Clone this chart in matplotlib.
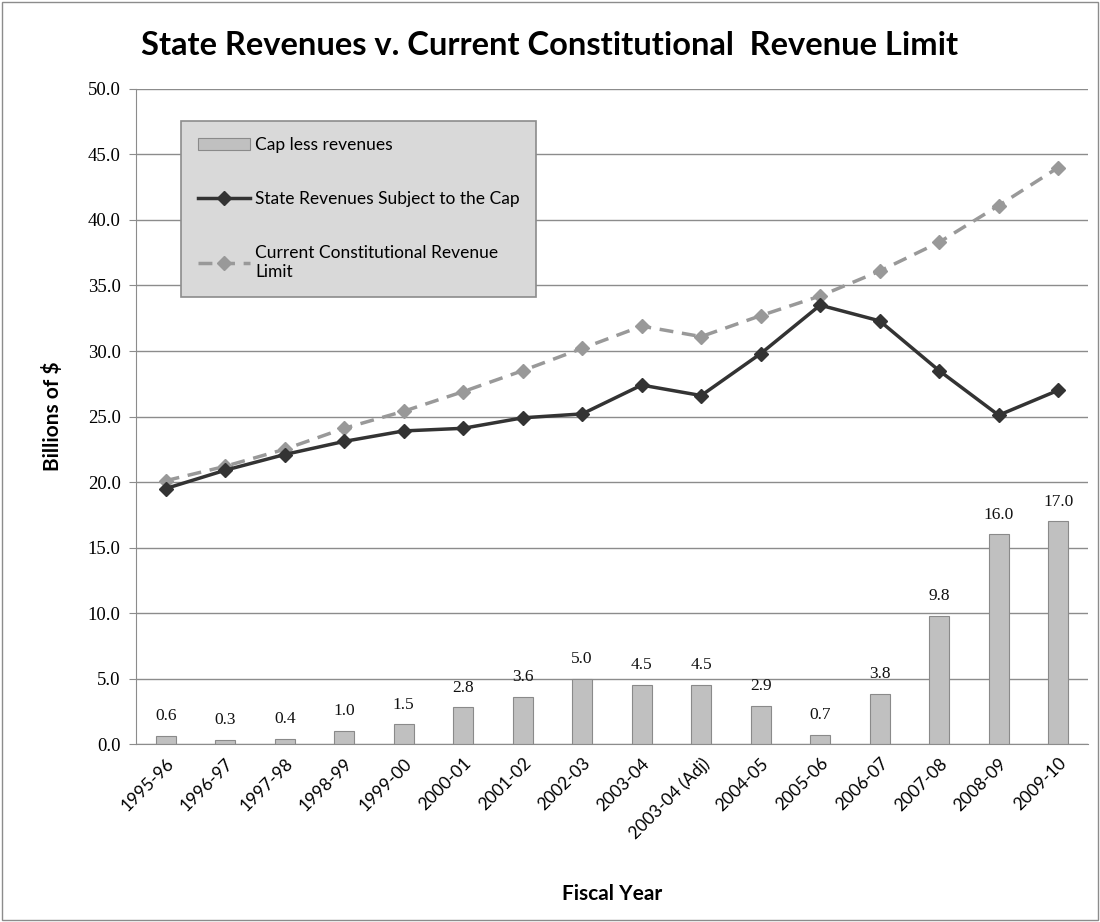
import matplotlib
matplotlib.use("Agg")
from matplotlib import pyplot as plt
from matplotlib.patches import Rectangle
import numpy as np

# data
years = ["1995-96", "1996-97", "1997-98", "1998-99", "1999-00", "2000-01",
         "2001-02", "2002-03", "2003-04", "2003-04 (Adj)", "2004-05", "2005-06",
         "2006-07", "2007-08", "2008-09", "2009-10"]
cap_less = [0.6, 0.3, 0.4, 1.0, 1.5, 2.8, 3.6, 5.0, 4.5, 4.5, 2.9, 0.7, 3.8, 9.8, 16.0, 17.0]
revenues = [19.5, 20.9, 22.1, 23.1, 23.9, 24.1, 24.9, 25.2, 27.4, 26.6, 29.8, 33.5,
            32.3, 28.5, 25.1, 27.0]
limit = [20.1, 21.2, 22.5, 24.1, 25.4, 26.9, 28.5, 30.2, 31.9, 31.1, 32.7, 34.2,
         36.1, 38.3, 41.1, 44.0]
yticks = np.arange(0, 50.1, 5)

sans = "Lato"
serif = "Liberation Serif"

fig = plt.figure(figsize=(11, 9.22), dpi=100)
fig.patches.append(Rectangle((0.002, 0.002), 0.996, 0.996, transform=fig.transFigure,
                             fill=False, edgecolor="#8c8c8c", lw=1))
ax = fig.add_axes([0.1236, 0.193, 0.8654, 0.7105])

x = np.arange(len(years))
bars = ax.bar(x, cap_less, width=0.34, color="#c0c0c0", edgecolor="#8a8a8a",
              lw=0.8, label="Cap less revenues", zorder=2)
for xi, v in zip(x, cap_less):
    ax.text(xi, v + 0.9, f"{v:.1f}", ha="center", va="bottom", fontsize=12.5,
            family=serif, color="#111111")

l1, = ax.plot(x, revenues, color="#333333", lw=2.5, marker="D", ms=7,
              label="State Revenues Subject to the Cap", zorder=4)
l2, = ax.plot(x, limit, color="#999999", lw=2.5, ls=(0, (4, 2.5)), marker="D", ms=7,
              label="Current Constitutional Revenue\nLimit", zorder=3)

ax.set_xlim(-0.5, len(years) - 0.5)
ax.set_ylim(0, 50)
ax.set_yticks(yticks)
ax.set_yticklabels([f"{t:.1f}" for t in yticks], family=serif, fontsize=13.5)
ax.set_xticks(x)
ax.set_xticklabels(years, rotation=45, ha="right", rotation_mode="anchor",
                   family=sans, fontsize=12.5)
ax.tick_params(axis="x", length=0, pad=8)
ax.tick_params(axis="y", length=5, color="#8c8c8c", pad=6)
ax.grid(axis="y", color="#8c8c8c", lw=1, zorder=0)
for s in ["top", "right"]:
    ax.spines[s].set_visible(False)
for s in ["left", "bottom"]:
    ax.spines[s].set_color("#8c8c8c")

ax.set_ylabel("Billions of $", family=sans, fontsize=15, fontweight="bold", labelpad=18)
ax.set_xlabel("Fiscal Year", family=sans, fontsize=15, fontweight="bold", labelpad=30)
fig.text(0.5, 0.951, "State Revenues v. Current Constitutional  Revenue Limit",
         ha="center", va="center", family=sans, fontsize=23.5, fontweight="bold")

leg = ax.legend(handles=[bars, l1, l2], loc="upper left", bbox_to_anchor=(0.0385, 0.965),
                fancybox=False, facecolor="#d9d9d9", edgecolor="#8c8c8c", framealpha=1,
                prop={"family": sans, "size": 12.5}, labelspacing=2.2,
                handlelength=3.0, handletextpad=0.3, borderpad=0.95)
leg.get_frame().set_linewidth(1.2)
leg.set_zorder(5)

fig.savefig("out.png", dpi=100)
